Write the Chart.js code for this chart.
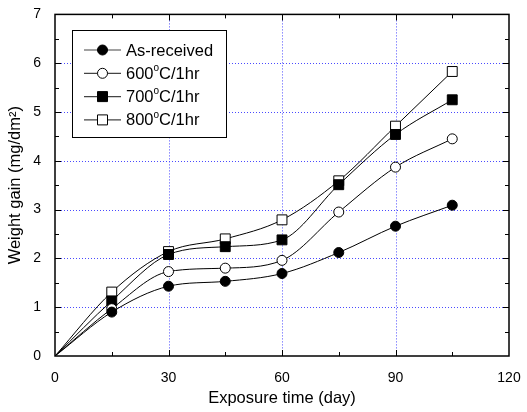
<!DOCTYPE html>
<html>
<head>
<meta charset="utf-8">
<script src="https://cdn.jsdelivr.net/npm/chart.js@4/dist/chart.umd.min.js"></script>
<style>
  html, body { margin: 0; padding: 0; background: #fff; }
  #wrap { width: 527px; height: 412px; }
</style>
</head>
<body>
<div id="wrap"><canvas id="gainChart" width="527" height="412"></canvas></div>
<script>
// exposure time (day) and weight gain (mg/dm2)
var days = [0, 15, 30, 45, 60, 75, 90, 105];
var asReceived = [0, 0.90, 1.43, 1.53, 1.69, 2.12, 2.66, 3.09];
var heat600 = [0, 0.97, 1.73, 1.80, 1.96, 2.95, 3.87, 4.45];
var heat700 = [0, 1.13, 2.08, 2.24, 2.38, 3.51, 4.54, 5.25];
var heat800 = [0, 1.31, 2.14, 2.40, 2.79, 3.59, 4.71, 5.83];

var legendLabels = ["As-received", "600|C/1hr", "700|C/1hr", "800|C/1hr"];
var xTicks = [0, 30, 60, 90, 120];
var yTicks = [0, 1, 2, 3, 4, 5, 6, 7];

var FONT = "'Liberation Sans', Arial, sans-serif";

function toPoints(vals) {
    return days.map(function (d, i) { return { x: d, y: vals[i] }; });
}

function makeSet(label, vals, style, fill) {
    return {
        label: label,
        data: toPoints(vals),
        borderColor: '#000',
        borderWidth: 1,
        backgroundColor: fill,
        pointBackgroundColor: fill,
        pointBorderColor: '#000',
        pointBorderWidth: 1,
        pointStyle: style,
        pointRadius: days.map(function (d) { return d === 0 ? 0 : (style === 'rect' ? 7 : 5); }),
        cubicInterpolationMode: 'monotone',
        fill: false
    };
}

var frameAndGrid = {
    id: 'frameAndGrid',
    beforeDatasetsDraw: function (chart) {
        var ctx = chart.ctx, a = chart.chartArea;
        var xs = chart.scales.x, ys = chart.scales.y;
        ctx.save();
        // dotted blue grid
        ctx.strokeStyle = '#4a4aff';
        ctx.lineWidth = 1;
        ctx.setLineDash([1, 2]);
        [30, 60, 90].forEach(function (v) {
            var px = Math.round(xs.getPixelForValue(v)) + 0.5;
            ctx.beginPath(); ctx.moveTo(px, a.top); ctx.lineTo(px, a.bottom); ctx.stroke();
        });
        [1, 2, 3, 4, 5, 6].forEach(function (v) {
            var py = Math.round(ys.getPixelForValue(v)) + 0.5;
            ctx.beginPath(); ctx.moveTo(a.left, py); ctx.lineTo(a.right, py); ctx.stroke();
        });
        ctx.restore();
    },
    afterDatasetsDraw: function (chart) {
        var ctx = chart.ctx, a = chart.chartArea;
        var xs = chart.scales.x, ys = chart.scales.y;
        ctx.save();
        ctx.strokeStyle = '#000';
        ctx.lineWidth = 1.5;
        ctx.strokeRect(a.left, a.top, a.right - a.left, a.bottom - a.top);
        ctx.lineWidth = 1;
        for (var d = 15; d < 120; d += 15) {
            var len = d % 30 === 0 ? 6 : 4;
            var px = Math.round(xs.getPixelForValue(d)) + 0.5;
            ctx.beginPath();
            ctx.moveTo(px, a.bottom); ctx.lineTo(px, a.bottom - len);
            ctx.moveTo(px, a.top); ctx.lineTo(px, a.top + len);
            ctx.stroke();
        }
        for (var w = 0.5; w < 7; w += 0.5) {
            var l2 = w % 1 === 0 ? 6 : 4;
            var py = Math.round(ys.getPixelForValue(w)) + 0.5;
            ctx.beginPath();
            ctx.moveTo(a.left, py); ctx.lineTo(a.left + l2, py);
            ctx.moveTo(a.right, py); ctx.lineTo(a.right - l2, py);
            ctx.stroke();
        }
        ctx.restore();
    }
};

var boxLegend = {
    id: 'boxLegend',
    afterDraw: function (chart) {
        var ctx = chart.ctx;
        var bx = 72, by = 30, bw = 154, bh = 107;
        ctx.save();
        ctx.fillStyle = '#fff';
        ctx.fillRect(bx, by, bw, bh);
        ctx.strokeStyle = '#000';
        ctx.lineWidth = 1;
        ctx.strokeRect(bx + 0.5, by + 0.5, bw, bh);
        chart.data.datasets.forEach(function (ds, i) {
            var cy = 50 + i * 23.3;
            ctx.strokeStyle = '#444';
            ctx.lineWidth = 1.2;
            ctx.beginPath(); ctx.moveTo(84, cy); ctx.lineTo(121, cy); ctx.stroke();
            ctx.fillStyle = ds.pointBackgroundColor;
            ctx.strokeStyle = '#000';
            ctx.lineWidth = 1;
            ctx.beginPath();
            if (ds.pointStyle === 'rect') ctx.rect(97.5, cy - 5, 10, 10);
            else ctx.arc(102.5, cy, 5, 0, Math.PI * 2);
            ctx.fill(); ctx.stroke();

            ctx.fillStyle = '#000';
            ctx.textBaseline = 'middle';
            ctx.textAlign = 'left';
            var parts = legendLabels[i].split('|');
            ctx.font = '16.5px ' + FONT;
            var tx = 126;
            ctx.fillText(parts[0], tx, cy + 1);
            if (parts.length > 1) {
                tx += ctx.measureText(parts[0]).width;
                ctx.font = '10px ' + FONT;
                ctx.fillText('o', tx, cy - 5);
                tx += ctx.measureText('o').width;
                ctx.font = '16.5px ' + FONT;
                ctx.fillText(parts[1], tx, cy + 1);
            }
        });
        ctx.restore();
    }
};

new Chart(document.getElementById('gainChart').getContext('2d'), {
    type: 'line',
    data: {
        datasets: [
            makeSet('As-received', asReceived, 'circle', '#000'),
            makeSet('600C/1hr', heat600, 'circle', '#fff'),
            makeSet('700C/1hr', heat700, 'rect', '#000'),
            makeSet('800C/1hr', heat800, 'rect', '#fff')
        ]
    },
    options: {
        responsive: false,
        animation: false,
        layout: { padding: { top: 13, right: 18, left: 2, bottom: 0 } },
        plugins: { legend: { display: false }, tooltip: { enabled: false } },
        scales: {
            x: {
                type: 'linear', min: 0, max: 120,
                afterFit: function (s) { s.height = 56; },
                afterBuildTicks: function (s) { s.ticks = xTicks.map(function (v) { return { value: v }; }); },
                grid: { display: false },
                border: { display: false },
                ticks: { color: '#000', font: { family: FONT, size: 14 }, padding: 6, maxRotation: 0 },
                title: { display: true, text: 'Exposure time (day)', color: '#000', font: { family: FONT, size: 16.5 }, padding: { top: 4 } }
            },
            y: {
                type: 'linear', min: 0, max: 7,
                afterFit: function (s) { s.width = 53; },
                afterBuildTicks: function (s) { s.ticks = yTicks.map(function (v) { return { value: v }; }); },
                grid: { display: false },
                border: { display: false },
                ticks: { color: '#000', font: { family: FONT, size: 14 }, padding: 6 },
                title: { display: true, text: 'Weight gain (mg/dm\u00B2)', color: '#000', font: { family: FONT, size: 16.5 }, padding: { bottom: 4 } }
            }
        }
    },
    plugins: [frameAndGrid, boxLegend]
});
</script>
</body>
</html>
